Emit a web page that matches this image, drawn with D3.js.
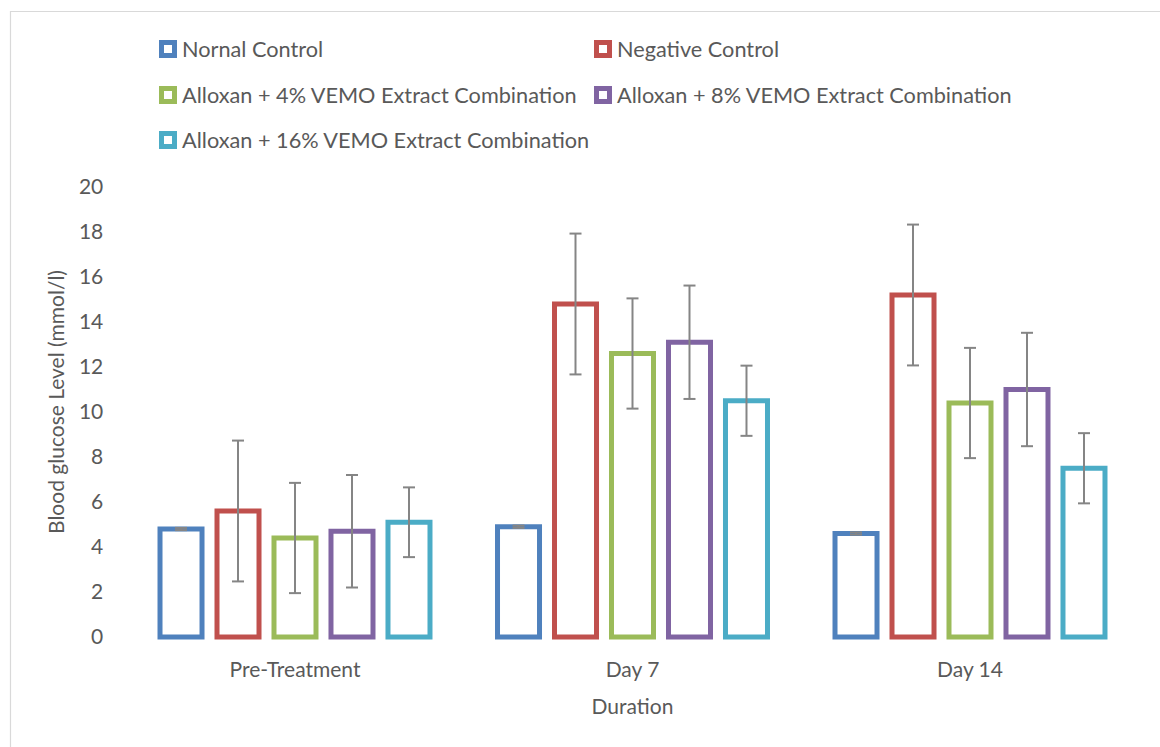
<!DOCTYPE html>
<html>
<head>
<meta charset="utf-8">
<script src="https://cdn.jsdelivr.net/npm/d3@7"></script>
<style>
  html, body { margin: 0; padding: 0; background: #fff; }
  svg { display: block; font-family: Lato, "Open Sans", sans-serif; }
</style>
</head>
<body>
<svg id="chart" width="1160" height="747"></svg>
<script>
// ---- data ----
const categories = ["Pre-Treatment", "Day 7", "Day 14"];
const seriesNames = [
  "Nornal Control",
  "Negative Control",
  "Alloxan + 4% VEMO Extract Combination",
  "Alloxan + 8% VEMO Extract Combination",
  "Alloxan + 16% VEMO Extract Combination"
];
const seriesColors = ["#4F81BD", "#C0504D", "#9BBB59", "#8064A2", "#4BACC6"];
const normalControl   = [4.8, 4.9, 4.6];
const negativeControl = [5.6, 14.8, 15.2];
const vemo4           = [4.4, 12.6, 10.4];
const vemo8           = [4.7, 13.1, 11.0];
const vemo16          = [5.1, 10.5, 7.5];
const errNormal   = [0.05, 0.05, 0.05];
const errNegative = [3.13, 3.13, 3.13];
const errVemo4    = [2.45, 2.45, 2.45];
const errVemo8    = [2.5, 2.52, 2.52];
const errVemo16   = [1.55, 1.56, 1.56];
const yTicks = [0, 2, 4, 6, 8, 10, 12, 14, 16, 18, 20];

const seriesValues = [normalControl, negativeControl, vemo4, vemo8, vemo16];
const seriesErrors = [errNormal, errNegative, errVemo4, errVemo8, errVemo16];

// ---- layout ----
const svg = d3.select("#chart");
const textColor = "#595959";
const plot = { left: 126.25, right: 1138.75, top: 187, bottom: 637 };

// chart border (top + left visible)
svg.append("path")
  .attr("d", "M10.5,747 L10.5,11.5 L1160,11.5")
  .attr("fill", "none").attr("stroke", "#d9d9d9").attr("stroke-width", 1.2);

const x0 = d3.scaleBand().domain(categories)
  .range([plot.left, plot.right])
  .paddingInner(0.1556).paddingOuter(0.0778);
const x1 = d3.scaleBand().domain(d3.range(seriesNames.length))
  .range([0, x0.bandwidth()])
  .paddingInner(0.263).paddingOuter(0.1316);
const y = d3.scaleLinear().domain([0, 20]).range([plot.bottom, plot.top]);

// y axis
const yAxis = svg.append("g")
  .attr("transform", `translate(${plot.left},0)`)
  .call(d3.axisLeft(y).tickValues(yTicks).tickSize(0).tickPadding(23));
yAxis.select(".domain").remove();
yAxis.selectAll("text").attr("fill", textColor).attr("font-size", 21)
  .attr("font-family", "Lato, sans-serif");

// x axis labels
const xAxis = svg.append("g")
  .attr("transform", `translate(0,${plot.bottom})`)
  .call(d3.axisBottom(x0).tickSize(0).tickPadding(25));
xAxis.select(".domain").remove();
xAxis.selectAll("text").attr("fill", textColor).attr("font-size", 21)
  .attr("font-family", "Lato, sans-serif");

// bars
const flat = [];
categories.forEach((c, ci) => {
  seriesNames.forEach((s, si) => {
    flat.push({ c, si, v: seriesValues[si][ci], e: seriesErrors[si][ci] });
  });
});

svg.append("g").selectAll("rect").data(flat).join("rect")
  .attr("x", d => x0(d.c) + x1(d.si))
  .attr("width", x1.bandwidth())
  .attr("y", d => y(d.v))
  .attr("height", d => y(0) - y(d.v))
  .attr("fill", "#fff")
  .attr("stroke", d => seriesColors[d.si])
  .attr("stroke-width", 5);

// error bars
const eg = svg.append("g").attr("stroke", "#858585").attr("stroke-width", 2);
flat.forEach(d => {
  const cx = x0(d.c) + x1(d.si) + x1.bandwidth() / 2;
  const yt = y(d.v + d.e), yb = y(d.v - d.e);
  eg.append("line").attr("x1", cx).attr("x2", cx).attr("y1", yt).attr("y2", yb);
  eg.append("line").attr("x1", cx - 6).attr("x2", cx + 6).attr("y1", yt).attr("y2", yt);
  eg.append("line").attr("x1", cx - 6).attr("x2", cx + 6).attr("y1", yb).attr("y2", yb);
});

// axis titles
svg.append("text")
  .attr("transform", `translate(64,402) rotate(-90)`)
  .attr("text-anchor", "middle")
  .attr("fill", textColor).attr("font-size", 21)
  .text("Blood glucose Level (mmol/l)");
svg.append("text")
  .attr("x", (plot.left + plot.right) / 2).attr("y", 714)
  .attr("text-anchor", "middle")
  .attr("fill", textColor).attr("font-size", 21)
  .text("Duration");

// legend
const legendPos = [[159, 49], [594, 49], [159, 95], [594, 95], [159, 140]];
const lg = svg.append("g");
seriesNames.forEach((name, i) => {
  const [lx, ly] = legendPos[i];
  lg.append("rect")
    .attr("x", lx + 2.5).attr("y", ly - 9 + 2.5)
    .attr("width", 13).attr("height", 13)
    .attr("fill", "#fff")
    .attr("stroke", seriesColors[i]).attr("stroke-width", 5);
  lg.append("text")
    .attr("x", lx + 23).attr("y", ly)
    .attr("dy", "0.36em")
    .attr("fill", textColor).attr("font-size", 21.7)
    .text(name);
});
</script>
</body>
</html>
